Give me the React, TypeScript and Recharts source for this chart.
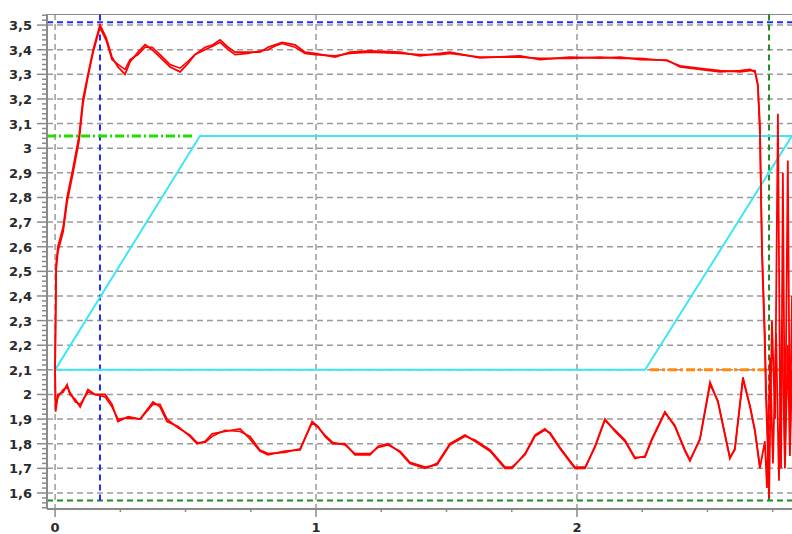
import { LineChart, Line, XAxis, YAxis, CartesianGrid } from 'recharts';

// time axis (s) and level (V) of the upper envelope, two traces
const upperT = [
  0, 0.004, 0.011, 0.031, 0.046, 0.069, 0.092, 0.107, 0.126, 0.146, 0.172, 0.195,
  0.218, 0.241, 0.268, 0.287, 0.318, 0.345, 0.372, 0.402, 0.441, 0.479, 0.506,
  0.536, 0.575, 0.605, 0.632, 0.663, 0.69, 0.739, 0.785, 0.816, 0.843, 0.87, 0.92,
  0.958, 0.996, 1.073, 1.13, 1.207, 1.322, 1.398, 1.475, 1.513, 1.628, 1.782,
  1.858, 1.973, 2.088, 2.165, 2.241, 2.345, 2.395, 2.471, 2.548, 2.625, 2.663,
  2.682, 2.693, 2.701, 2.709, 2.72, 2.724, 2.732, 2.736, 2.747, 2.759, 2.77,
  2.778, 2.782, 2.789, 2.797, 2.808, 2.816, 2.824,
];
const upperA = [
  2.1, 2.53, 2.6, 2.68, 2.8, 2.92, 3.05, 3.2, 3.3, 3.4, 3.5, 3.45,
  3.37, 3.33, 3.3, 3.35, 3.39, 3.42, 3.4, 3.37, 3.33, 3.31, 3.34,
  3.38, 3.41, 3.42, 3.44, 3.41, 3.39, 3.39, 3.39, 3.41, 3.42, 3.43, 3.42,
  3.39, 3.385, 3.37, 3.39, 3.395, 3.39, 3.375, 3.385, 3.39, 3.367, 3.375,
  3.36, 3.37, 3.366, 3.37, 3.36, 3.358, 3.33, 3.32, 3.31, 3.315, 3.32,
  3.31, 3.255, 3.1, 2.57, 2.2, 2.0, 1.75, 1.58, 2.3, 1.9, 3.14,
  2.0, 1.7, 2.9, 1.75, 2.95, 1.8, 2.4,
];
const upperB = [
  2.1, 2.5, 2.58, 2.66, 2.78, 2.9, 3.03, 3.18, 3.29, 3.39, 3.49, 3.44,
  3.36, 3.34, 3.32, 3.36, 3.38, 3.41, 3.41, 3.38, 3.34, 3.325, 3.35,
  3.38, 3.4, 3.415, 3.43, 3.4, 3.38, 3.385, 3.395, 3.4, 3.415, 3.425, 3.41,
  3.385, 3.38, 3.375, 3.385, 3.39, 3.385, 3.38, 3.38, 3.385, 3.37, 3.37,
  3.365, 3.365, 3.37, 3.365, 3.365, 3.355, 3.335, 3.325, 3.315, 3.31, 3.315,
  3.315, 3.26, 3.05, 2.6, 2.25, 2.05, 1.8, 1.6,
];

// lower envelope, two traces
const lowerT = [
  0, 0.002, 0.011, 0.031, 0.046, 0.057, 0.077, 0.096, 0.126, 0.153, 0.192, 0.218,
  0.241, 0.28, 0.326, 0.375, 0.402, 0.429, 0.471, 0.517, 0.544, 0.575, 0.602,
  0.651, 0.709, 0.747, 0.785, 0.816, 0.881, 0.939, 0.985, 1.008, 1.034, 1.065,
  1.111, 1.149, 1.207, 1.238, 1.276, 1.322, 1.36, 1.418, 1.464, 1.513, 1.571,
  1.609, 1.667, 1.724, 1.751, 1.801, 1.839, 1.877, 1.897, 1.935, 1.992, 2.031,
  2.069, 2.107, 2.146, 2.184, 2.222, 2.261, 2.287, 2.337, 2.375, 2.414, 2.433,
  2.471, 2.51, 2.54, 2.586, 2.605, 2.636, 2.663, 2.682, 2.701, 2.72, 2.728,
  2.74, 2.751, 2.763, 2.774, 2.785, 2.797, 2.808, 2.816, 2.824,
];
const lowerA = [
  2.1, 1.93, 2.0, 2.01, 2.04, 2.0, 1.98, 1.95, 2.02, 2.0, 2.0, 1.96,
  1.89, 1.91, 1.9, 1.97, 1.95, 1.89, 1.87, 1.83, 1.8, 1.81, 1.84,
  1.85, 1.86, 1.82, 1.77, 1.755, 1.77, 1.775, 1.89, 1.87, 1.83, 1.8,
  1.8, 1.755, 1.755, 1.79, 1.8, 1.765, 1.72, 1.7, 1.72, 1.8, 1.835,
  1.81, 1.77, 1.7, 1.7, 1.76, 1.835, 1.86, 1.84, 1.78, 1.7, 1.7,
  1.79, 1.9, 1.85, 1.81, 1.74, 1.75, 1.82, 1.93, 1.87, 1.77, 1.73,
  1.82, 2.05, 1.97, 1.74, 1.78, 2.07, 1.95, 1.85, 1.7, 1.81, 1.62,
  2.15, 1.72, 2.25, 1.65, 2.3, 1.7, 2.2, 1.75, 2.1,
];
const lowerB = [
  2.1, 1.95, 1.99, 2.02, 2.03, 2.01, 1.97, 1.96, 2.01, 2.0, 1.99, 1.95,
  1.9, 1.905, 1.9, 1.96, 1.96, 1.9, 1.865, 1.835, 1.805, 1.805, 1.83,
  1.855, 1.85, 1.83, 1.775, 1.76, 1.765, 1.78, 1.885, 1.865, 1.835, 1.805,
  1.795, 1.76, 1.76, 1.785, 1.795, 1.77, 1.725, 1.705, 1.715, 1.795, 1.83,
  1.815, 1.775, 1.705, 1.705, 1.755, 1.83, 1.855, 1.845, 1.785, 1.705, 1.705,
  1.785, 1.895, 1.855, 1.815, 1.745, 1.745, 1.815, 1.925, 1.875, 1.775, 1.735,
  1.815, 2.04, 1.975, 1.745, 1.775, 2.06, 1.955, 1.855, 1.71,
];

// switching band (parallelogram)
const bandT = [0, 0.555, 2.824, 2.261, 0];
const bandV = [2.1, 3.05, 3.05, 2.1, 2.1];

// set levels and cursors
const upperLimit = [{ x: -0.031, y: 3.05 }, { x: 0.53, y: 3.05 }];
const lowerLimit = [{ x: 2.28, y: 2.1 }, { x: 2.824, y: 2.1 }];
const peakCursorX = [{ x: 0.172, y: 1.57 }, { x: 0.172, y: 3.545 }];
const peakCursorY = [{ x: -0.031, y: 3.512 }, { x: 2.824, y: 3.512 }];
const minCursorX = [{ x: 2.736, y: 1.57 }, { x: 2.736, y: 3.545 }];
const minCursorY = [{ x: -0.031, y: 1.57 }, { x: 2.824, y: 1.57 }];
const topEdge = [{ x: -0.031, y: 3.545 }, { x: 2.824, y: 3.545 }];

const yLabels = [1.6, 1.7, 1.8, 1.9, 2, 2.1, 2.2, 2.3, 2.4, 2.5, 2.6, 2.7, 2.8, 2.9, 3, 3.1, 3.2, 3.3, 3.4, 3.5];
const xLabels = [0, 1, 2];
const xTicks = [0, 0.25, 0.5, 0.75, 1, 1.25, 1.5, 1.75, 2, 2.25, 2.5, 2.75];

const X_DOMAIN: [number, number] = [-0.031, 2.824];
const Y_DOMAIN: [number, number] = [1.535, 3.545];

// minor y ticks every 0.02
const yTicks: number[] = [];
for (let i = 77; i <= 177; i++) yTicks.push(i / 50);

const zip = (t: number[], v: number[]) => v.map((y, i) => ({ x: t[i], y }));
const upper1 = zip(upperT, upperA);
const upper2 = zip(upperT, upperB);
const lower1 = zip(lowerT, lowerA);
const lower2 = zip(lowerT, lowerB);
const band = zip(bandT, bandV);

const AXIS = '#8a8a8a';
const RED = '#ff0000';
const FONT = '"DejaVu Sans", sans-serif';

function YTick(props: any) {
  const { x, y, payload } = props;
  const v = Math.round(payload.value * 100) / 100;
  const major = yLabels.includes(v);
  return (
    <g>
      <line x1={x} x2={x - (major ? 10 : 5)} y1={y} y2={y} stroke={AXIS} strokeWidth={1.5} />
      {major && (
        <text x={x - 15} y={y + 5} textAnchor="end" fontSize={13} fontWeight="bold" fontFamily={FONT} fill="#2a2a2a">
          {String(v).replace('.', ',')}
        </text>
      )}
    </g>
  );
}

function XTick(props: any) {
  const { x, y, payload } = props;
  const v = payload.value;
  const major = xLabels.includes(v);
  return (
    <g>
      <line x1={x} x2={x} y1={y} y2={y + (major ? 8 : 3)} stroke={AXIS} strokeWidth={1.5} />
      {major && (
        <text x={x} y={y + 23} textAnchor="middle" fontSize={13} fontWeight="bold" fontFamily={FONT} fill="#2a2a2a">
          {v}
        </text>
      )}
    </g>
  );
}

export default function App() {
  return (
    <div style={{ width: 792, height: 534, background: '#fff' }}>
      <style>{'body{margin:0}'}</style>
      <LineChart width={792} height={534} margin={{ top: 14, right: 0, bottom: 0, left: 0 }}>
        <CartesianGrid
          stroke="#9a9a9a"
          strokeWidth={1.5}
          strokeDasharray="6 4"
          horizontalValues={yLabels}
          verticalValues={xLabels}
        />
        <XAxis
          type="number"
          dataKey="x"
          domain={X_DOMAIN}
          allowDataOverflow
          ticks={xTicks}
          interval={0}
          height={25}
          tickSize={0}
          tickMargin={0}
          tickLine={false}
          tick={<XTick />}
          axisLine={{ stroke: AXIS, strokeWidth: 2 }}
        />
        <YAxis
          type="number"
          dataKey="y"
          domain={Y_DOMAIN}
          allowDataOverflow
          ticks={yTicks}
          interval={0}
          width={47}
          tickSize={0}
          tickMargin={0}
          tickLine={false}
          tick={<YTick />}
          axisLine={{ stroke: AXIS, strokeWidth: 2 }}
        />
        <Line data={topEdge} dataKey="y" stroke={AXIS} strokeWidth={2} dot={false} isAnimationActive={false} />
        <Line data={peakCursorY} dataKey="y" stroke="#1f2bff" strokeWidth={2} strokeDasharray="6 4" dot={false} isAnimationActive={false} />
        <Line data={minCursorY} dataKey="y" stroke="#1e8c1e" strokeWidth={2} strokeDasharray="6 4" dot={false} isAnimationActive={false} />
        <Line data={peakCursorX} dataKey="y" stroke="#1f2bff" strokeWidth={2} strokeDasharray="6 4" dot={false} isAnimationActive={false} />
        <Line data={minCursorX} dataKey="y" stroke="#1e8c1e" strokeWidth={2} strokeDasharray="6 4" dot={false} isAnimationActive={false} />
        <Line data={band} dataKey="y" stroke="#3fe6f5" strokeWidth={2} dot={false} isAnimationActive={false} />
        <Line data={upperLimit} dataKey="y" stroke="#22dd00" strokeWidth={3} strokeDasharray="9 3 2 3" dot={false} isAnimationActive={false} />
        <Line data={lowerLimit} dataKey="y" stroke="#ff8a10" strokeWidth={3} strokeDasharray="9 3 3 3" dot={false} isAnimationActive={false} />
        <Line data={upper2} dataKey="y" stroke={RED} strokeWidth={1.6} dot={false} isAnimationActive={false} />
        <Line data={lower2} dataKey="y" stroke={RED} strokeWidth={1.6} dot={false} isAnimationActive={false} />
        <Line data={upper1} dataKey="y" stroke={RED} strokeWidth={1.8} dot={false} isAnimationActive={false} />
        <Line data={lower1} dataKey="y" stroke={RED} strokeWidth={1.8} dot={false} isAnimationActive={false} />
      </LineChart>
    </div>
  );
}
